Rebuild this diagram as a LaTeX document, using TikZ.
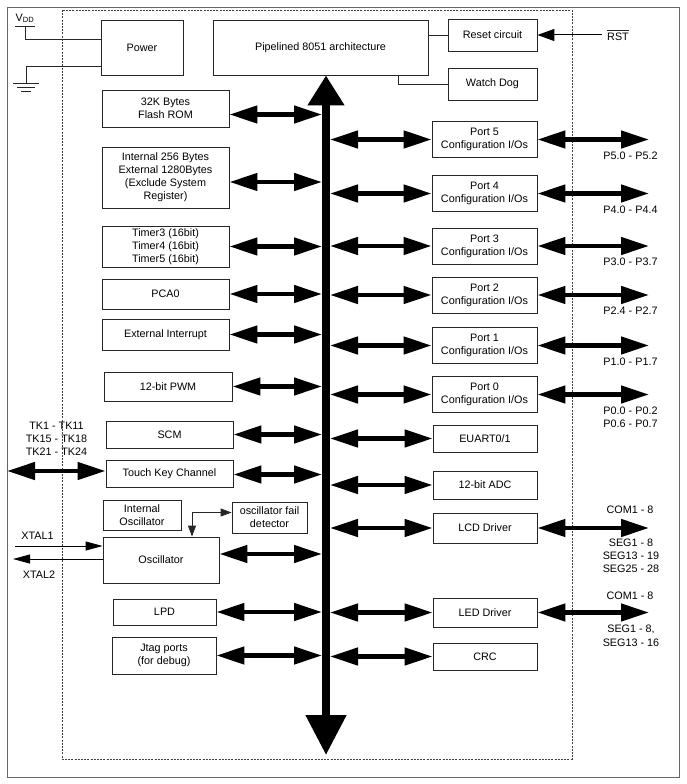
\documentclass[tikz,border=0pt]{standalone}
\usepackage{fontspec}
\setmainfont{Liberation Sans}
\usetikzlibrary{arrows.meta}

\begin{document}
\begin{tikzpicture}[x=1pt,y=-1pt,
		every node/.style={font=\fontsize{10.8}{13}\selectfont, align=center, inner sep=1pt},
		blk/.style={draw=black!85, line width=0.8pt},
		lbl/.style={inner sep=0pt},
		wirel/.style={draw=black!85, line width=0.8pt},
		bus2/.style={line width=4.5pt, {Triangle[length=28pt,width=17pt]}-{Triangle[length=28pt,width=17pt]}},
		sig/.style={line width=0.8pt, -{Triangle[length=17pt,width=9pt]}}]
	\useasboundingbox (0,0) rectangle (687,784);
	\draw[black!60, line width=0.8pt] (7,7) rectangle (679,777);
	\draw[black!75, line width=0.7pt, dash pattern=on 2pt off 1.2pt] (62,10) rectangle (572,759);

	% top row
	\node[blk, minimum width=82pt, minimum height=55pt] (power) at (142,47.5) {Power};
	\node[blk, minimum width=215pt, minimum height=55pt] (cpu) at (320.5,47.5) {Pipelined 8051 architecture};
	\node[blk, minimum width=89pt, minimum height=32pt] (reset) at (492.5,35) {Reset circuit};
	\node[blk, minimum width=89pt, minimum height=32pt] (wdog) at (492.5,84) {Watch Dog};

	\draw[wirel] (cpu.east |- reset.west) -- (reset.west);
	\draw[wirel] ([xshift=77.5pt]cpu.south) |- (wdog.west);

	\coordinate (rstin) at (602,35);
	\draw[line width=1pt, -{Triangle[length=17pt,width=12pt]}] (rstin) -- (reset.east);
	\node[lbl, anchor=west] (rst) at (607,37) {RST};
	\draw[black!85, line width=0.9pt] ([yshift=3pt]rst.north west) -- ([yshift=3pt]rst.north east);

	\coordinate (vdd) at (25,26);
	\node[above] (vddlbl) at (25,24) {V\textsubscript{DD}};
	\draw[wirel] (vdd) ++(-10,0) -- ++(20,0);
	\draw[wirel] (vdd) |- ([yshift=8.5pt]power.west);
	\coordinate (gnd) at (26,83);
	\draw[wirel] ([yshift=-18.5pt]power.west) -| (gnd);
	\draw[wirel] (gnd) ++(-13,0) -- ++(26,0);
	\draw[wirel] (gnd) ++(-9,4) -- ++(18,0);
	\draw[wirel] (gnd) ++(-5,8) -- ++(10,0);

	% left column
	\node[blk, minimum width=127pt, minimum height=37pt] (flash) at (165.5,108.5) {32K Bytes\\Flash ROM};
	\node[blk, minimum width=127pt, minimum height=61pt] (ram) at (165.5,177.5)
	{Internal 256 Bytes\\External 1280Bytes\\(Exclude System\\Register)};
	\node[blk, minimum width=127pt, minimum height=41pt] (timer) at (165.5,246.5)
	{Timer3 (16bit)\\Timer4 (16bit)\\Timer5 (16bit)};
	\node[blk, minimum width=127pt, minimum height=30pt] (pca) at (165.5,294) {PCA0};
	\node[blk, minimum width=127pt, minimum height=31pt] (extint) at (165.5,334.5) {External Interrupt};
	\node[blk, minimum width=128pt, minimum height=29pt] (pwm) at (168,386.5) {12-bit PWM};
	\node[blk, minimum width=127pt, minimum height=27pt] (scm) at (169.5,434.5) {SCM};
	\node[blk, minimum width=127pt, minimum height=27pt] (touch) at (169.5,473.5) {Touch Key Channel};
	\node[blk, minimum width=78pt, minimum height=30pt] (intosc) at (142,515) {Internal\\Oscillator};
	\node[blk, minimum width=75pt, minimum height=31pt] (ofd) at (269.5,517.5) {oscillator fail\\detector};
	\node[blk, minimum width=116pt, minimum height=46pt] (osc) at (161,560) {Oscillator};
	\node[blk, minimum width=103pt, minimum height=26pt] (lpd) at (164.5,612) {LPD};
	\node[blk, minimum width=104pt, minimum height=37pt] (jtag) at (164,655.5) {Jtag ports\\(for debug)};

	\draw[wirel, {Triangle[length=11pt,width=8pt]}-{Triangle[length=11pt,width=8pt]}]
	([xshift=31pt]osc.north) |- ([yshift=5pt]ofd.west);

	\coordinate (x1in) at (15,546);
	\coordinate (x2out) at (13,559);
	\draw[sig] (x1in) -- (x1in -| osc.west);
	\draw[sig] (x2out -| osc.west) -- (x2out);
	\node (xtal1) at (37.5,536) {XTAL1};
	\node (xtal2) at (39,575) {XTAL2};

	\node (tklbl) at (56.5,438.5) {TK1 - TK11\\TK15 - TK18\\TK21 - TK24};
	\coordinate (tkin) at (7,471);
	\draw[bus2] (tkin) -- (tkin -| touch.west);

	% right column
	\foreach \p/\y/\pins in {5/139.5/{P5.0 - P5.2}, 4/193.5/{P4.0 - P4.4}, 3/246/{P3.0 - P3.7},
			2/295/{P2.4 - P2.7}, 1/345.5/{P1.0 - P1.7}, 0/394.5/{P0.0 - P0.2\\P0.6 - P0.7}} {
			\node[blk, minimum width=105pt, minimum height=36pt] (port\p) at (484.5,\y)
			{Port \p\\Configuration I/Os};
			\node[lbl, anchor=north] (pins\p) at (630.5,\y+12) {\pins};
		}
	\node[blk, minimum width=104pt, minimum height=27pt] (euart) at (485,438.5) {EUART0/1};
	\node[blk, minimum width=104pt, minimum height=28pt] (adc) at (485,485) {12-bit ADC};
	\node[blk, minimum width=104pt, minimum height=30pt] (lcd) at (485,528) {LCD Driver};
	\node[blk, minimum width=104pt, minimum height=29pt] (led) at (485,612.5) {LED Driver};
	\node[blk, minimum width=104pt, minimum height=27pt] (crc) at (485,656.5) {CRC};

	\node (lcdcom) at (630,510) {COM1 - 8};
	\node (lcdseg) at (631,556) {SEG1 - 8\\SEG13 - 19\\SEG25 - 28};
	\node (ledcom) at (630,596) {COM1 - 8};
	\node (ledseg) at (631,635.5) {SEG1 - 8,\\[1pt]SEG13 - 16};

	% bus
	\coordinate (busbot) at (326,755);
	\coordinate (busL) at (322,0);
	\coordinate (busR) at (330,0);
	\coordinate (pend) at (649,0);
	\draw[line width=8pt, {Triangle[length=30pt,width=35pt]}-{Triangle[length=40pt,width=39pt]}]
	(busbot |- cpu.south) -- (busbot);

	\foreach \b/\s in {flash/-6, ram/-4.5, timer/0, pca/0, extint/0, pwm/0, scm/0, touch/-1, osc/6, lpd/0, jtag/0} {
			\path ([yshift=\s pt]\b.east) coordinate (tmp);
			\draw[bus2] (tmp) -- (tmp -| busL);
		}
	\foreach \b in {port5,port4,port3,port2,port1,port0,euart,adc,lcd,led,crc} {
			\draw[bus2] (\b.west -| busR) -- (\b.west);
		}
	\foreach \b in {port5,port4,port3,port2,port1,port0,lcd,led} {
			\draw[bus2] (\b.east) -- (\b.east -| pend);
		}
\end{tikzpicture}
\end{document}
